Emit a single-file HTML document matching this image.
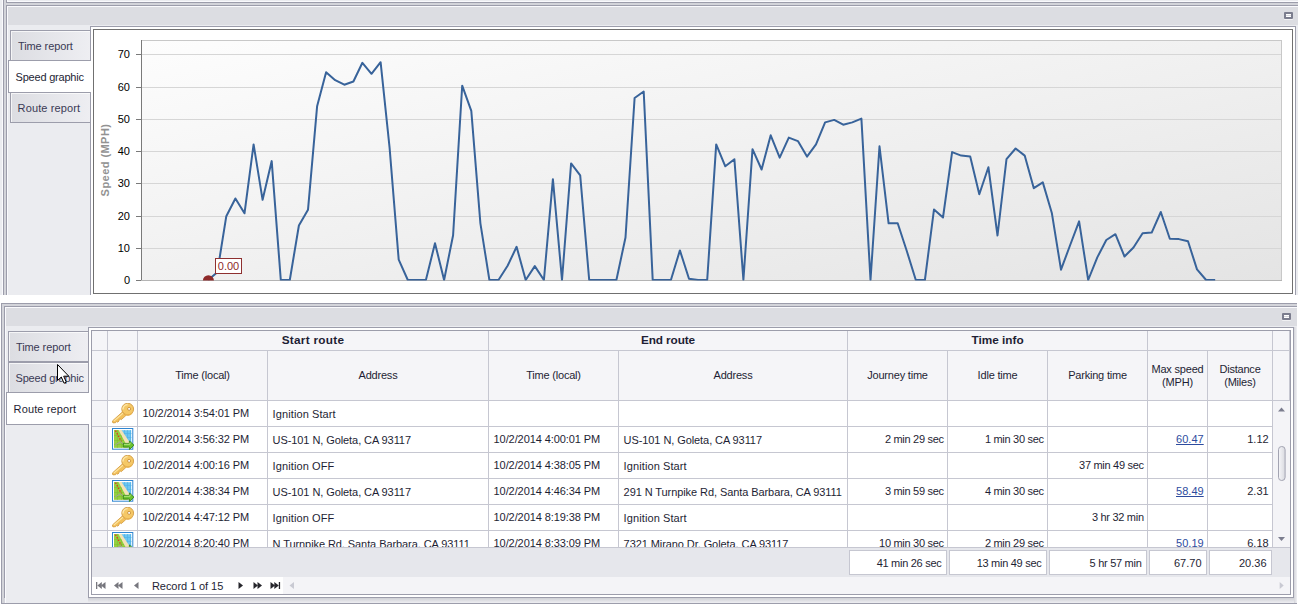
<!DOCTYPE html><html><head><meta charset="utf-8"><title>Reports</title><style>
*{box-sizing:border-box}
html,body{margin:0;padding:0;background:#fff}
body{width:1298px;height:608px;overflow:hidden;position:relative;font-family:"Liberation Sans",sans-serif;font-size:11px;color:#1e1e34}
.a{position:absolute}
.tab{position:absolute;border:1px solid #9c9dab;background:linear-gradient(90deg,#dcdde2,#eeeef2);box-shadow:inset 1px 1px 0 rgba(255,255,255,.7);line-height:31px;white-space:nowrap;color:#3a3a55}
.tab.sel{background:#fff;border-right:none;box-shadow:none;color:#1e1e34;line-height:33px}
.hc{position:absolute;letter-spacing:-.2px;background:#f5f5f8;border-right:1px solid #c6c7d1;border-bottom:1px solid #c6c7d1;text-align:center;white-space:nowrap;overflow:hidden}
.hb{font-weight:bold;font-size:11.800px;line-height:19px;letter-spacing:.2px}
.h2{line-height:49px}
.h3{line-height:13px;padding-top:12px}
.c{position:absolute;height:26px;line-height:25px;letter-spacing:-.08px;border-right:1px solid #c6c7d1;border-bottom:1px solid #c6c7d1;white-space:nowrap;overflow:hidden;padding:0 3.300px 0 4.600px;background:#fff}
.dt{letter-spacing:-.09px}.du{letter-spacing:-.3px}.nu{letter-spacing:.03px}.ig{letter-spacing:.1px}.ad{line-height:27px}
.r{text-align:right}
.lnk{color:#2d4b9e;text-decoration:underline}
.f{position:absolute;top:550px;height:25px;line-height:25px;border:1px solid #c6c7d1;background:#fff;text-align:right;padding-right:4.500px;white-space:nowrap}
</style></head><body>
<div class="a" style="left:0;top:0;width:1298px;height:295px;overflow:hidden;background:#ebecf0">
<div class="a" style="left:2px;top:0;width:1px;height:295px;background:#fafafd"></div>
<div class="a" style="left:3px;top:0;width:4px;height:295px;background:#d3d4da;border-left:1px solid #9c9dab;border-right:1px solid #9c9dab"></div>
<div class="a" style="left:7px;top:0;width:1px;height:295px;background:#fafafd"></div>
<div class="a" style="left:7px;top:1px;width:1291px;height:1px;background:#fafafd"></div>
<div class="a" style="left:6px;top:2px;width:1292px;height:4px;background:#d3d4da;border-top:1px solid #9c9dab;border-bottom:1px solid #9c9dab"></div>
<div class="a" style="left:4px;top:3px;width:4px;height:2px;background:#d3d4da"></div>
<div class="a" style="left:7px;top:6px;width:1291px;height:1px;background:#fafafd"></div>
<div class="a" style="left:8px;top:7px;width:1290px;height:18px;background:#dcdde2"></div>
<div class="a" style="left:1284px;top:12px;width:9px;height:7px;border:2px solid #7b7d8e;border-radius:1px;background:#fff;box-shadow:0 1px 0 rgba(255,255,255,.6)"><div class="a" style="left:0;top:1px;width:5px;height:1px;background:#d5d6dc"></div></div>
<div class="tab" style="left:10px;top:30px;width:81px;height:31px;padding-left:7px;letter-spacing:-.1px">Time report</div>
<div class="tab" style="left:10px;top:92px;width:81px;height:31px;padding-left:6.600px;letter-spacing:.13px">Route report</div>
<div class="a" style="left:90px;top:26px;width:1206px;height:280px;border:1px solid #9c9dab;background:#fff"></div>
<div class="tab sel" style="left:8px;top:60px;width:83px;height:33px;padding-left:6.600px;letter-spacing:-.22px">Speed graphic</div>
<div class="a" style="left:93px;top:29px;width:1200px;height:265px;border:1px solid #707070;background:#fff"></div>
<svg class="a" style="left:0;top:0" width="1298" height="295" viewBox="0 0 1298 295" font-family="Liberation Sans, sans-serif" font-size="11"><defs><linearGradient id="pg" x1="0" y1="0" x2="1" y2="1"><stop offset="0" stop-color="#fdfdfd"/><stop offset="1" stop-color="#e4e4e4"/></linearGradient><clipPath id="pc"><rect x="141" y="40" width="1141" height="240.5"/></clipPath></defs><rect x="141.5" y="40.5" width="1140" height="240" fill="url(#pg)" stroke="#c8c8c8" stroke-width="1"/><line x1="136" y1="280.5" x2="141" y2="280.5" stroke="#7a7a7a" stroke-width="1"/><text x="130" y="284.1" text-anchor="end" fill="#000">0</text><line x1="142" y1="248.5" x2="1281" y2="248.5" stroke="#d6d6d6" stroke-width="1"/><line x1="136" y1="248.5" x2="141" y2="248.5" stroke="#7a7a7a" stroke-width="1"/><text x="130" y="252.1" text-anchor="end" fill="#000">10</text><line x1="142" y1="216.5" x2="1281" y2="216.5" stroke="#d6d6d6" stroke-width="1"/><line x1="136" y1="216.5" x2="141" y2="216.5" stroke="#7a7a7a" stroke-width="1"/><text x="130" y="220.1" text-anchor="end" fill="#000">20</text><line x1="142" y1="183.5" x2="1281" y2="183.5" stroke="#d6d6d6" stroke-width="1"/><line x1="136" y1="183.5" x2="141" y2="183.5" stroke="#7a7a7a" stroke-width="1"/><text x="130" y="187.1" text-anchor="end" fill="#000">30</text><line x1="142" y1="151.5" x2="1281" y2="151.5" stroke="#d6d6d6" stroke-width="1"/><line x1="136" y1="151.5" x2="141" y2="151.5" stroke="#7a7a7a" stroke-width="1"/><text x="130" y="155.1" text-anchor="end" fill="#000">40</text><line x1="142" y1="119.5" x2="1281" y2="119.5" stroke="#d6d6d6" stroke-width="1"/><line x1="136" y1="119.5" x2="141" y2="119.5" stroke="#7a7a7a" stroke-width="1"/><text x="130" y="123.1" text-anchor="end" fill="#000">50</text><line x1="142" y1="87.5" x2="1281" y2="87.5" stroke="#d6d6d6" stroke-width="1"/><line x1="136" y1="87.5" x2="141" y2="87.5" stroke="#7a7a7a" stroke-width="1"/><text x="130" y="91.1" text-anchor="end" fill="#000">60</text><line x1="142" y1="54.5" x2="1281" y2="54.5" stroke="#d6d6d6" stroke-width="1"/><line x1="136" y1="54.5" x2="141" y2="54.5" stroke="#7a7a7a" stroke-width="1"/><text x="130" y="58.1" text-anchor="end" fill="#000">70</text><line x1="141.5" y1="40" x2="141.5" y2="281" stroke="#7a7a7a" stroke-width="1"/><line x1="141" y1="280.5" x2="1282" y2="280.5" stroke="#b4b4b4" stroke-width="1"/><text transform="translate(109.3,160) rotate(-90)" text-anchor="middle" font-weight="bold" fill="#929292" letter-spacing="0.45">Speed (MPH)</text><g clip-path="url(#pc)"><polyline points="208.2,280.0 217.3,272.3 226.3,216.2 235.4,198.5 244.5,213.3 253.6,144.4 262.6,199.8 271.7,161.1 280.8,280.0 289.8,280.0 298.9,225.5 308.0,209.8 317.1,106.3 326.1,72.2 335.2,80.2 344.3,84.7 353.4,81.5 362.4,62.8 371.5,73.8 380.6,62.2 389.6,147.9 398.7,259.7 407.8,280.0 416.9,280.0 425.9,280.0 435.0,243.3 444.1,280.0 453.1,235.2 462.2,85.7 471.3,110.8 480.4,223.3 489.4,280.0 498.5,280.0 507.6,265.8 516.6,246.8 525.7,280.0 534.8,266.1 543.9,280.0 552.9,179.2 562.0,280.0 571.1,163.4 580.2,175.3 589.2,280.0 598.3,280.0 607.4,280.0 616.4,280.0 625.5,237.5 634.6,98.0 643.7,91.5 652.7,280.0 661.8,280.0 670.9,280.0 679.9,250.4 689.0,278.7 698.1,280.0 707.2,280.0 716.2,144.4 725.3,166.3 734.4,159.2 743.4,280.0 752.5,149.2 761.6,169.5 770.7,135.3 779.7,157.6 788.8,137.6 797.9,141.1 807.0,156.6 816.0,144.4 825.1,122.4 834.2,119.9 843.2,124.7 852.3,122.4 861.4,118.6 870.5,280.0 879.5,146.3 888.6,223.3 897.7,223.3 906.7,250.7 915.8,280.0 924.9,280.0 934.0,209.4 943.0,217.5 952.1,152.1 961.2,155.6 970.2,156.6 979.3,194.3 988.4,167.2 997.5,235.5 1006.5,159.2 1015.6,148.5 1024.7,155.6 1033.8,188.2 1042.8,182.4 1051.9,213.3 1061.0,269.7 1070.0,245.5 1079.1,221.4 1088.2,280.0 1097.3,257.4 1106.3,240.0 1115.4,234.2 1124.5,256.5 1133.5,247.5 1142.6,233.3 1151.7,232.6 1160.8,212.0 1169.8,238.8 1178.9,239.1 1188.0,241.3 1197.0,269.4 1206.1,280.0 1215.2,280.0" fill="none" stroke="#38639a" stroke-width="2" stroke-linejoin="round"/><ellipse cx="208.400" cy="280.600" rx="5.500" ry="5.300" fill="#8e2a2a"/></g><rect x="215.5" y="258.5" width="26" height="15" fill="#fff" stroke="#8e3030" stroke-width="1"/><text x="228.5" y="270" text-anchor="middle" fill="#8e2a2a">0.00</text></svg>
</div>
<div class="a" style="left:0;top:295px;width:1298px;height:313px;background:#fff"></div>
<div class="a" style="left:1px;top:303px;width:1296px;height:301px;background:linear-gradient(180deg,#d3d4da,#d3d4da);border:1px solid #9c9dab;border-right:none"></div>
<div class="a" style="left:4px;top:306px;width:1293px;height:292px;border:1px solid #9c9dab;border-bottom:none;border-right:none;background:#ebecf0"></div>
<div class="a" style="left:5px;top:307px;width:1292px;height:1px;background:#fafafd"></div>
<div class="a" style="left:5px;top:307px;width:1px;height:296px;background:#fafafd"></div>
<div class="a" style="left:6px;top:308px;width:1291px;height:295px;background:#ebecf0"></div>
<div class="a" style="left:6px;top:308px;width:1291px;height:18px;background:#dcdde2"></div>
<div class="a" style="left:1282px;top:313px;width:9px;height:7px;border:2px solid #7b7d8e;border-radius:1px;background:#fff;box-shadow:0 1px 0 rgba(255,255,255,.6)"><div class="a" style="left:0;top:1px;width:5px;height:1px;background:#d5d6dc"></div></div>
<div class="a" style="left:88px;top:598px;width:1209px;height:5px;background:linear-gradient(180deg,#cfd0d5,#eeeef2)"></div>
<div class="a" style="left:1294px;top:327px;width:3px;height:276px;background:linear-gradient(90deg,#d4d5da,#f0f0f4)"></div>
<div class="tab" style="left:8px;top:331px;width:81px;height:31px;padding-left:7px;letter-spacing:-.1px">Time report</div>
<div class="tab" style="left:8px;top:362px;width:81px;height:31px;padding-left:6.600px;letter-spacing:-.22px">Speed graphic</div>
<div class="a" style="left:88px;top:327px;width:1206px;height:271px;border:1px solid #9c9dab;background:#fff"></div>
<div class="tab sel" style="left:6px;top:392px;width:83px;height:33px;padding-left:6.600px;letter-spacing:.13px">Route report</div>
<div class="a" style="left:91px;top:330px;width:1200px;height:265px;border:1px solid #9c9dab;background:#fff;overflow:hidden">
<div class="hc " style="left:0px;top:0px;width:16px;height:20px"></div>
<div class="hc " style="left:16px;top:0px;width:30px;height:20px"></div>
<div class="hc hb" style="left:46px;top:0px;width:351px;height:20px"><span style="letter-spacing:.26px">Start route</span></div>
<div class="hc hb" style="left:397px;top:0px;width:359px;height:20px"><span style="letter-spacing:-.1px">End route</span></div>
<div class="hc hb" style="left:756px;top:0px;width:300px;height:20px"><span style="letter-spacing:0">Time info</span></div>
<div class="hc " style="left:1056px;top:0px;width:125px;height:20px"></div>
<div class="hc " style="left:1181px;top:0px;width:17px;height:20px"></div>
<div class="hc h2" style="left:0px;top:20px;width:16px;height:50px"></div>
<div class="hc h2" style="left:16px;top:20px;width:30px;height:50px"></div>
<div class="hc h2" style="left:46px;top:20px;width:130px;height:50px">Time (local)</div>
<div class="hc h2" style="left:176px;top:20px;width:221px;height:50px">Address</div>
<div class="hc h2" style="left:397px;top:20px;width:130px;height:50px">Time (local)</div>
<div class="hc h2" style="left:527px;top:20px;width:229px;height:50px">Address</div>
<div class="hc h2" style="left:756px;top:20px;width:100px;height:50px">Journey time</div>
<div class="hc h2" style="left:856px;top:20px;width:100px;height:50px">Idle time</div>
<div class="hc h2" style="left:956px;top:20px;width:100px;height:50px">Parking time</div>
<div class="hc h3" style="left:1056px;top:20px;width:60px;height:50px">Max speed<br>(MPH)</div>
<div class="hc h3" style="left:1116px;top:20px;width:65px;height:50px">Distance<br>(Miles)</div>
<div class="hc h2" style="left:1181px;top:20px;width:17px;height:50px"></div>
<div class="a" style="left:1181px;top:70px;width:17px;height:146px;background:#f4f4f7"></div>
<svg class="a" style="left:1181px;top:70px" width="17" height="146" viewBox="0 0 17 146"><path d="M5 10.5 L8.5 6.5 L12 10.5Z" fill="#7b7d8e"/><path d="M5 136 L8.5 140 L12 136Z" fill="#7b7d8e"/><defs><linearGradient id="tg" x1="0" x2="1" y1="0" y2="0"><stop offset="0" stop-color="#f6f6f9"/><stop offset="1" stop-color="#d9dae0"/></linearGradient></defs><rect x="5.500" y="45.500" width="6.600" height="34" rx="3.200" fill="url(#tg)" stroke="#a3a4b2"/></svg>
<div class="c" style="left:0px;top:70px;width:16px;background:#f5f5f8;padding:0"></div>
<div class="c" style="left:16px;top:70px;width:30px;padding:0"></div>
<svg class="a" style="left:20px;top:72px" width="24" height="22" viewBox="0 0 24 22"><path d="M10.800 8.600L.7 17.700Q-.2 19.100 1 19.900L3.600 19.700L4.600 18.500L5.800 19.200L7.200 17.800L6.700 16.900L8.100 15.900L9.200 16.700L13.800 12.600Z" fill="#f3c15c" stroke="#d39a3f" stroke-width=".8" stroke-linejoin="round"/><path d="M1.800 18.100L11.400 9.800" stroke="#fde7a6" stroke-width="1.100"/><circle cx="15.700" cy="6.100" r="5.900" fill="#f5c866" stroke="#d39a3f" stroke-width=".9"/><path d="M10.900 6.600a4.900 4.900 0 0 1 4.600-5" fill="none" stroke="#fdeab2" stroke-width="1.300"/><path d="M12.500 10.800a5.200 5.200 0 0 0 7.600-.6" fill="none" stroke="#e9b24e" stroke-width="1.200"/><circle cx="17.100" cy="5.900" r="1.500" fill="#fff" stroke="#c98f35" stroke-width=".9"/></svg>
<div class="c dt" style="left:46px;top:70px;width:130px">10/2/2014 3:54:01 PM</div>
<div class="c ad ig" style="left:176px;top:70px;width:221px">Ignition Start</div>
<div class="c dt" style="left:397px;top:70px;width:130px"></div>
<div class="c ad" style="left:527px;top:70px;width:229px"></div>
<div class="c r du" style="left:756px;top:70px;width:100px"></div>
<div class="c r du" style="left:856px;top:70px;width:100px"></div>
<div class="c r du" style="left:956px;top:70px;width:100px"></div>
<div class="c r nu" style="left:1056px;top:70px;width:60px"></div>
<div class="c r nu" style="left:1116px;top:70px;width:65px"></div>
<div class="c" style="left:0px;top:96px;width:16px;background:#f5f5f8;padding:0"></div>
<div class="c" style="left:16px;top:96px;width:30px;padding:0"></div>
<svg class="a" style="left:20px;top:97px" width="24" height="24" viewBox="0 0 24 24"><rect x=".5" y=".5" width="20.300" height="20.700" fill="#fff" stroke="#2f86d2" stroke-width="1"/><rect x="2.200" y="2.200" width="17" height="17.300" fill="#6cc6f2"/><path d="M11 5.500H19.500M12 9.500H19.500M14 13.500H19.500M12.500 2V8M15.500 2V14M18.500 2V17" stroke="#4fb0e4" stroke-width=".6"/><path d="M2 2H9.500L19.500 17V19.800H2Z" fill="#f3e2b6"/><path d="M2 2H6.500L16 19.800H2Z" fill="#94d040"/><path d="M2 7.500H9.500M2 12.500H12M2 16.500H14M5.500 2V19.800M9.500 8V19.800" stroke="#7fbd30" stroke-width=".6"/><path d="M3.500 2.600L9.300 13.400" stroke="#e5311f" stroke-width="1.300" stroke-dasharray="1.500 1.400"/><path d="M3 17.200L8.500 13.700L11 16" fill="none" stroke="#a0a0a0" stroke-width="1"/><path d="M11.300 15.400H17.400V12.900L22 17.200L17.400 21.500V19H11.300Z" fill="#6dc42f" stroke="#37851a" stroke-width=".9" stroke-linejoin="round"/><path d="M12 16.300H18L18 14.600" fill="none" stroke="#c0ec94" stroke-width=".8"/></svg>
<div class="c dt" style="left:46px;top:96px;width:130px">10/2/2014 3:56:32 PM</div>
<div class="c ad" style="left:176px;top:96px;width:221px">US-101 N, Goleta, CA 93117</div>
<div class="c dt" style="left:397px;top:96px;width:130px">10/2/2014 4:00:01 PM</div>
<div class="c ad" style="left:527px;top:96px;width:229px">US-101 N, Goleta, CA 93117</div>
<div class="c r du" style="left:756px;top:96px;width:100px">2 min 29 sec</div>
<div class="c r du" style="left:856px;top:96px;width:100px">1 min 30 sec</div>
<div class="c r du" style="left:956px;top:96px;width:100px"></div>
<div class="c r nu" style="left:1056px;top:96px;width:60px"><span class="lnk">60.47</span></div>
<div class="c r nu" style="left:1116px;top:96px;width:65px">1.12</div>
<div class="c" style="left:0px;top:122px;width:16px;background:#f5f5f8;padding:0"></div>
<div class="c" style="left:16px;top:122px;width:30px;padding:0"></div>
<svg class="a" style="left:20px;top:124px" width="24" height="22" viewBox="0 0 24 22"><path d="M10.800 8.600L.7 17.700Q-.2 19.100 1 19.900L3.600 19.700L4.600 18.500L5.800 19.200L7.200 17.800L6.700 16.900L8.100 15.900L9.200 16.700L13.800 12.600Z" fill="#f3c15c" stroke="#d39a3f" stroke-width=".8" stroke-linejoin="round"/><path d="M1.800 18.100L11.400 9.800" stroke="#fde7a6" stroke-width="1.100"/><circle cx="15.700" cy="6.100" r="5.900" fill="#f5c866" stroke="#d39a3f" stroke-width=".9"/><path d="M10.900 6.600a4.900 4.900 0 0 1 4.600-5" fill="none" stroke="#fdeab2" stroke-width="1.300"/><path d="M12.500 10.800a5.200 5.200 0 0 0 7.600-.6" fill="none" stroke="#e9b24e" stroke-width="1.200"/><circle cx="17.100" cy="5.900" r="1.500" fill="#fff" stroke="#c98f35" stroke-width=".9"/></svg>
<div class="c dt" style="left:46px;top:122px;width:130px">10/2/2014 4:00:16 PM</div>
<div class="c ad ig" style="left:176px;top:122px;width:221px">Ignition OFF</div>
<div class="c dt" style="left:397px;top:122px;width:130px">10/2/2014 4:38:05 PM</div>
<div class="c ad ig" style="left:527px;top:122px;width:229px">Ignition Start</div>
<div class="c r du" style="left:756px;top:122px;width:100px"></div>
<div class="c r du" style="left:856px;top:122px;width:100px"></div>
<div class="c r du" style="left:956px;top:122px;width:100px">37 min 49 sec</div>
<div class="c r nu" style="left:1056px;top:122px;width:60px"></div>
<div class="c r nu" style="left:1116px;top:122px;width:65px"></div>
<div class="c" style="left:0px;top:148px;width:16px;background:#f5f5f8;padding:0"></div>
<div class="c" style="left:16px;top:148px;width:30px;padding:0"></div>
<svg class="a" style="left:20px;top:149px" width="24" height="24" viewBox="0 0 24 24"><rect x=".5" y=".5" width="20.300" height="20.700" fill="#fff" stroke="#2f86d2" stroke-width="1"/><rect x="2.200" y="2.200" width="17" height="17.300" fill="#6cc6f2"/><path d="M11 5.500H19.500M12 9.500H19.500M14 13.500H19.500M12.500 2V8M15.500 2V14M18.500 2V17" stroke="#4fb0e4" stroke-width=".6"/><path d="M2 2H9.500L19.500 17V19.800H2Z" fill="#f3e2b6"/><path d="M2 2H6.500L16 19.800H2Z" fill="#94d040"/><path d="M2 7.500H9.500M2 12.500H12M2 16.500H14M5.500 2V19.800M9.500 8V19.800" stroke="#7fbd30" stroke-width=".6"/><path d="M3.500 2.600L9.300 13.400" stroke="#e5311f" stroke-width="1.300" stroke-dasharray="1.500 1.400"/><path d="M3 17.200L8.500 13.700L11 16" fill="none" stroke="#a0a0a0" stroke-width="1"/><path d="M11.300 15.400H17.400V12.900L22 17.200L17.400 21.500V19H11.300Z" fill="#6dc42f" stroke="#37851a" stroke-width=".9" stroke-linejoin="round"/><path d="M12 16.300H18L18 14.600" fill="none" stroke="#c0ec94" stroke-width=".8"/></svg>
<div class="c dt" style="left:46px;top:148px;width:130px">10/2/2014 4:38:34 PM</div>
<div class="c ad" style="left:176px;top:148px;width:221px">US-101 N, Goleta, CA 93117</div>
<div class="c dt" style="left:397px;top:148px;width:130px">10/2/2014 4:46:34 PM</div>
<div class="c ad" style="left:527px;top:148px;width:229px">291 N Turnpike Rd, Santa Barbara, CA 93111</div>
<div class="c r du" style="left:756px;top:148px;width:100px">3 min 59 sec</div>
<div class="c r du" style="left:856px;top:148px;width:100px">4 min 30 sec</div>
<div class="c r du" style="left:956px;top:148px;width:100px"></div>
<div class="c r nu" style="left:1056px;top:148px;width:60px"><span class="lnk">58.49</span></div>
<div class="c r nu" style="left:1116px;top:148px;width:65px">2.31</div>
<div class="c" style="left:0px;top:174px;width:16px;background:#f5f5f8;padding:0"></div>
<div class="c" style="left:16px;top:174px;width:30px;padding:0"></div>
<svg class="a" style="left:20px;top:176px" width="24" height="22" viewBox="0 0 24 22"><path d="M10.800 8.600L.7 17.700Q-.2 19.100 1 19.900L3.600 19.700L4.600 18.500L5.800 19.200L7.200 17.800L6.700 16.900L8.100 15.900L9.200 16.700L13.800 12.600Z" fill="#f3c15c" stroke="#d39a3f" stroke-width=".8" stroke-linejoin="round"/><path d="M1.800 18.100L11.400 9.800" stroke="#fde7a6" stroke-width="1.100"/><circle cx="15.700" cy="6.100" r="5.900" fill="#f5c866" stroke="#d39a3f" stroke-width=".9"/><path d="M10.900 6.600a4.900 4.900 0 0 1 4.600-5" fill="none" stroke="#fdeab2" stroke-width="1.300"/><path d="M12.500 10.800a5.200 5.200 0 0 0 7.600-.6" fill="none" stroke="#e9b24e" stroke-width="1.200"/><circle cx="17.100" cy="5.900" r="1.500" fill="#fff" stroke="#c98f35" stroke-width=".9"/></svg>
<div class="c dt" style="left:46px;top:174px;width:130px">10/2/2014 4:47:12 PM</div>
<div class="c ad ig" style="left:176px;top:174px;width:221px">Ignition OFF</div>
<div class="c dt" style="left:397px;top:174px;width:130px">10/2/2014 8:19:38 PM</div>
<div class="c ad ig" style="left:527px;top:174px;width:229px">Ignition Start</div>
<div class="c r du" style="left:756px;top:174px;width:100px"></div>
<div class="c r du" style="left:856px;top:174px;width:100px"></div>
<div class="c r du" style="left:956px;top:174px;width:100px">3 hr 32 min</div>
<div class="c r nu" style="left:1056px;top:174px;width:60px"></div>
<div class="c r nu" style="left:1116px;top:174px;width:65px"></div>
<div class="c" style="left:0px;top:200px;width:16px;background:#f5f5f8;padding:0"></div>
<div class="c" style="left:16px;top:200px;width:30px;padding:0"></div>
<svg class="a" style="left:20px;top:201px" width="24" height="24" viewBox="0 0 24 24"><rect x=".5" y=".5" width="20.300" height="20.700" fill="#fff" stroke="#2f86d2" stroke-width="1"/><rect x="2.200" y="2.200" width="17" height="17.300" fill="#6cc6f2"/><path d="M11 5.500H19.500M12 9.500H19.500M14 13.500H19.500M12.500 2V8M15.500 2V14M18.500 2V17" stroke="#4fb0e4" stroke-width=".6"/><path d="M2 2H9.500L19.500 17V19.800H2Z" fill="#f3e2b6"/><path d="M2 2H6.500L16 19.800H2Z" fill="#94d040"/><path d="M2 7.500H9.500M2 12.500H12M2 16.500H14M5.500 2V19.800M9.500 8V19.800" stroke="#7fbd30" stroke-width=".6"/><path d="M3.500 2.600L9.300 13.400" stroke="#e5311f" stroke-width="1.300" stroke-dasharray="1.500 1.400"/><path d="M3 17.200L8.500 13.700L11 16" fill="none" stroke="#a0a0a0" stroke-width="1"/><path d="M11.300 15.400H17.400V12.900L22 17.200L17.400 21.500V19H11.300Z" fill="#6dc42f" stroke="#37851a" stroke-width=".9" stroke-linejoin="round"/><path d="M12 16.300H18L18 14.600" fill="none" stroke="#c0ec94" stroke-width=".8"/></svg>
<div class="c dt" style="left:46px;top:200px;width:130px">10/2/2014 8:20:40 PM</div>
<div class="c ad" style="left:176px;top:200px;width:221px">N Turnpike Rd, Santa Barbara, CA 93111</div>
<div class="c dt" style="left:397px;top:200px;width:130px">10/2/2014 8:33:09 PM</div>
<div class="c ad" style="left:527px;top:200px;width:229px">7321 Mirano Dr, Goleta, CA 93117</div>
<div class="c r du" style="left:756px;top:200px;width:100px">10 min 30 sec</div>
<div class="c r du" style="left:856px;top:200px;width:100px">2 min 29 sec</div>
<div class="c r du" style="left:956px;top:200px;width:100px"></div>
<div class="c r nu" style="left:1056px;top:200px;width:60px"><span class="lnk">50.19</span></div>
<div class="c r nu" style="left:1116px;top:200px;width:65px">6.18</div>
<div class="a" style="left:0;top:216px;width:1198px;height:30px;background:#e6e7ec;border-top:1px solid #c6c7d1"></div>
<div class="f" style="left:757px;top:219px;width:98px;letter-spacing:-.28px">41 min 26 sec</div>
<div class="f" style="left:857px;top:219px;width:98px;letter-spacing:-.28px">13 min 49 sec</div>
<div class="f" style="left:957px;top:219px;width:98px;letter-spacing:-.28px">5 hr 57 min</div>
<div class="f" style="left:1057px;top:219px;width:58px;letter-spacing:0">67.70</div>
<div class="f" style="left:1117px;top:219px;width:63px;letter-spacing:0">20.36</div>
<div class="a" style="left:0;top:246px;width:1198px;height:17px;background:#f4f4f7"></div>
<div class="a" style="left:0;top:246px;width:191px;height:17px;background:#fff"></div>
<svg class="a" style="left:0;top:246px" width="1198" height="17" viewBox="92 577 1198 17"><rect x="96" y="582" width="1.3" height="7" fill="#77777e"/><path d="M101.8 582L97.3 585.500L101.8 589Z" fill="#77777e"/><path d="M105.5 582L101 585.500L105.5 589Z" fill="#77777e"/><path d="M118.5 582L114 585.500L118.5 589Z" fill="#77777e"/><path d="M122.5 582L118 585.500L122.5 589Z" fill="#77777e"/><path d="M138.5 582L134 585.500L138.5 589Z" fill="#77777e"/><path d="M238.5 582L243.0 585.500L238.5 589Z" fill="#26262c"/><path d="M253.5 582L258.0 585.500L253.5 589Z" fill="#26262c"/><path d="M257.5 582L262.0 585.500L257.5 589Z" fill="#26262c"/><path d="M270.5 582L275.0 585.500L270.5 589Z" fill="#26262c"/><path d="M274.3 582L278.8 585.500L274.3 589Z" fill="#26262c"/><rect x="278.8" y="582" width="1.3" height="7" fill="#26262c"/><path d="M294.0 582L289.5 585.500L294.0 589Z" fill="#c9cad3"/><path d="M1279.700 582L1283.700 585.500L1279.700 589Z" fill="#c9cad3"/></svg>
<div class="a" style="left:60px;top:246px;height:17px;line-height:18px;white-space:nowrap;letter-spacing:-.07px">Record 1 of 15</div>
</div>
<svg class="a" style="left:56px;top:363px" width="14" height="22" viewBox="0 0 14 22"><path d="M1.500 1.500V17.500L5.300 14L8 20.200L10.300 19.200L7.700 13.200H12.800Z" fill="#fff" stroke="#000" stroke-width="1" stroke-linejoin="miter"/></svg>
</body></html>
